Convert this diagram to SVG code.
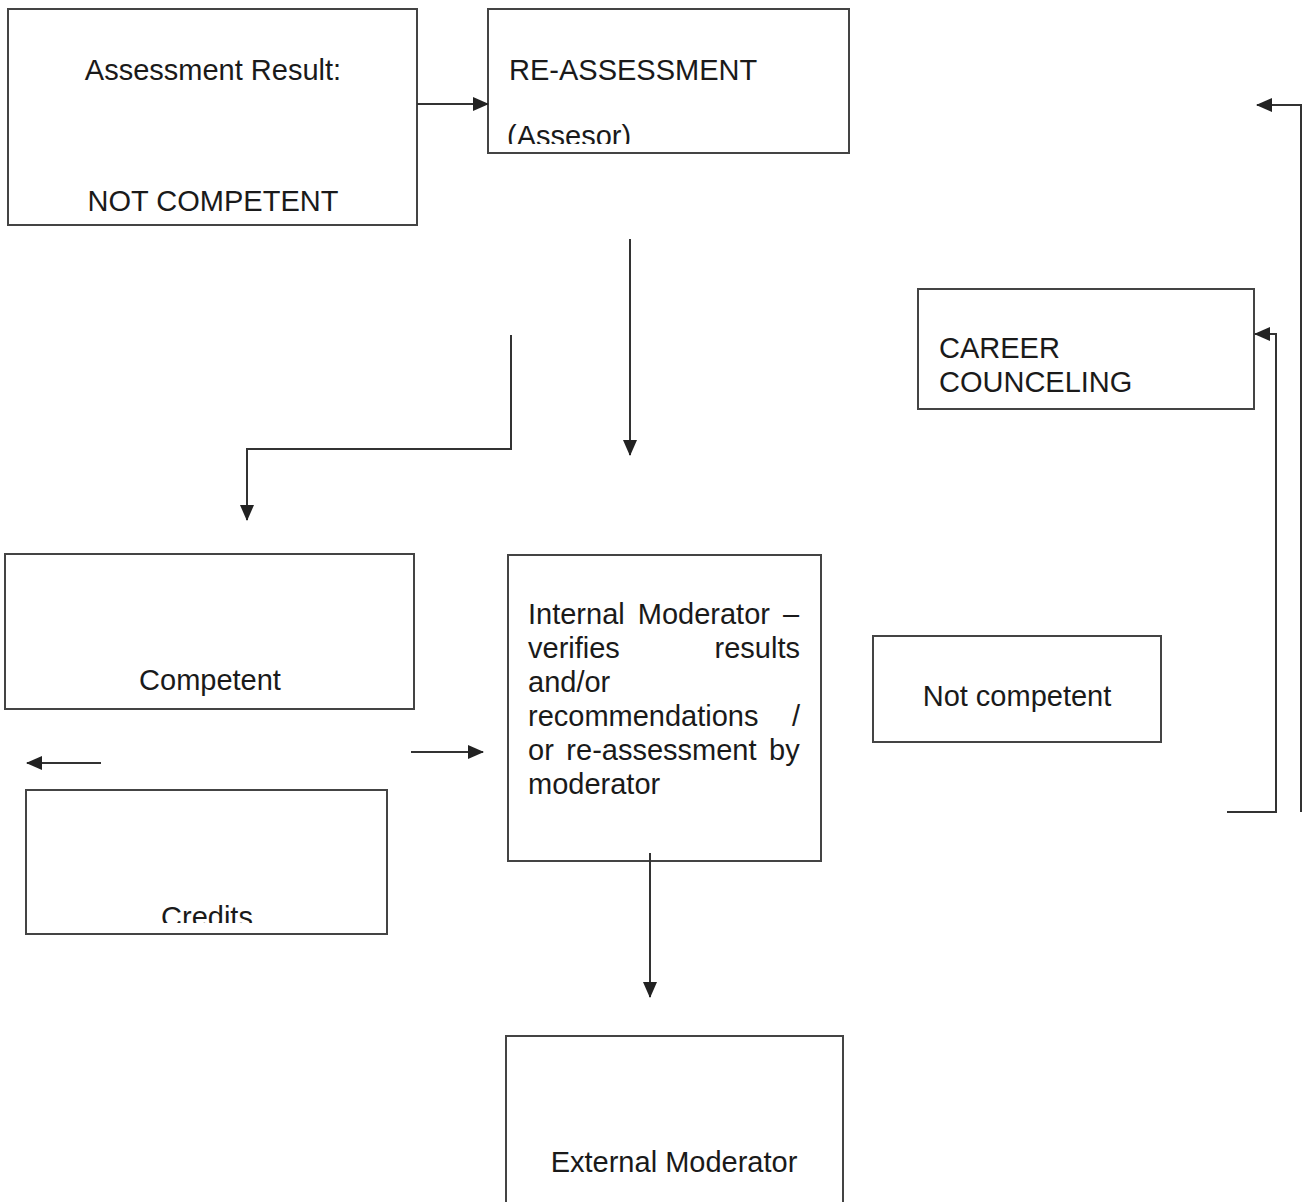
<svg xmlns="http://www.w3.org/2000/svg" width="1310" height="1202" viewBox="0 0 1310 1202">
<style>
.box{fill:#fff;stroke:#444;stroke-width:2}
.ln{fill:none;stroke:#333;stroke-width:2}
text{font-family:"Liberation Sans",Arial,sans-serif;font-size:29px;fill:#1a1a1a}
</style>
<defs>
<marker id="ah" markerWidth="16" markerHeight="14" refX="15" refY="7" orient="auto" markerUnits="userSpaceOnUse">
<path d="M0,0 L16,7 L0,14 Z" fill="#222"/>
</marker>
<clipPath id="c2"><rect x="488" y="9" width="361" height="135"/></clipPath>
<clipPath id="c5"><rect x="26" y="790" width="361" height="133"/></clipPath>
</defs>
<rect width="1310" height="1202" fill="#fff"/>
<g id="n1"><rect class="box" x="8" y="9" width="409" height="216"/>
<text x="213" y="80" text-anchor="middle">Assessment Result:</text>
<text x="213" y="211" text-anchor="middle">NOT COMPETENT</text></g>
<g id="n2"><rect class="box" x="488" y="9" width="361" height="144"/>
<text x="509" y="80">RE-ASSESSMENT</text>
<text x="507" y="146" clip-path="url(#c2)">(Assesor)</text></g>
<g id="n3"><rect class="box" x="918" y="289" width="336" height="120"/>
<text x="939" y="358">CAREER</text>
<text x="939" y="392">COUNCELING</text></g>
<g id="n4"><rect class="box" x="5" y="554" width="409" height="155"/>
<text x="210" y="690" text-anchor="middle">Competent</text></g>
<g id="n5"><rect class="box" x="508" y="555" width="313" height="306"/>
<text x="528" y="624" word-spacing="5">Internal Moderator –</text>
<text x="528" y="658">verifies</text><text x="800" y="658" text-anchor="end">results</text>
<text x="528" y="692">and/or</text>
<text x="528" y="726">recommendations</text><text x="800" y="726" text-anchor="end">/</text>
<text x="528" y="760" word-spacing="4.5">or re-assessment by</text>
<text x="528" y="794">moderator</text></g>
<g id="n6"><rect class="box" x="873" y="636" width="288" height="106"/>
<text x="1017" y="706" text-anchor="middle">Not competent</text></g>
<g id="n7"><rect class="box" x="26" y="790" width="361" height="144"/>
<text x="207" y="927" text-anchor="middle" clip-path="url(#c5)">Credits</text></g>
<g id="n8"><rect class="box" x="506" y="1036" width="337" height="175"/>
<text x="674" y="1172" text-anchor="middle">External Moderator</text></g>
<g id="edges">
<path class="ln" d="M417,104 H488" marker-end="url(#ah)"/>
<path class="ln" d="M630,239 V455" marker-end="url(#ah)"/>
<path class="ln" d="M511,335 V449 H247 V520" marker-end="url(#ah)"/>
<path class="ln" d="M101,763 H27" marker-end="url(#ah)"/>
<path class="ln" d="M411,752 H483" marker-end="url(#ah)"/>
<path class="ln" d="M650,853 V997" marker-end="url(#ah)"/>
<path class="ln" d="M1227,812 H1276 V334 H1255" marker-end="url(#ah)"/>
<path class="ln" d="M1301,812 V105 H1257" marker-end="url(#ah)"/>
</g>
</svg>
